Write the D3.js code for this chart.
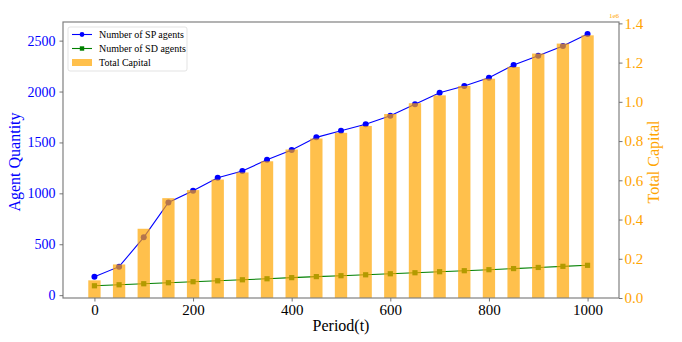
<!DOCTYPE html>
<html>
<head>
<meta charset="utf-8">
<script src="https://cdn.jsdelivr.net/npm/d3@7"></script>
<style>
  body { margin: 0; background: #fff; }
  svg text { font-family: "Liberation Serif", "Times New Roman", serif; }
</style>
</head>
<body>
<div id="chart"></div>
<script>
// periods sampled every 50 steps
var periods = [0, 50, 100, 150, 200, 250, 300, 350, 400, 450, 500,
               550, 600, 650, 700, 750, 800, 850, 900, 950, 1000];
var spAgents = [181, 280, 568, 911, 1026, 1153, 1219, 1330, 1425, 1550, 1614,
                1678, 1762, 1874, 1988, 2054, 2136, 2260, 2352, 2447, 2565];
var sdAgents = [92, 102, 112, 122, 132, 141, 151, 161, 172, 182, 191,
                200, 210, 220, 230, 240, 250, 261, 272, 283, 293];
var totalCapital = [90000, 171000, 353000, 509000, 550000, 604000, 640000, 697000, 757000, 813000, 842000,
                    877000, 938000, 993000, 1033000, 1081000, 1118000, 1178000, 1246000, 1297000, 1339000];
var xTicks = [0, 200, 400, 600, 800, 1000];
var leftTicks = [0, 500, 1000, 1500, 2000, 2500];
var rightTicks = [0, 200000, 400000, 600000, 800000, 1000000, 1200000, 1400000];

var Chart = {
    width: 682,
    height: 342,
    left: 63,
    right: 619,
    top: 22,
    bottom: 298,
    barWidth: 25,
    spColor: '#0000ff',
    sdColor: '#008000',
    barColor: '#ffa500',
    spineColor: '#808080',
    font: '"Liberation Serif", "Times New Roman", serif'
};

function styleAxis(g, color, size) {
    g.select('.domain').remove();
    g.selectAll('line').attr('stroke', '#666').attr('stroke-width', 0.9);
    g.selectAll('text').attr('font-size', size).attr('fill', color)
        .attr('font-family', Chart.font);
}

function drawChart() {
    var svg = d3.select('#chart').append('svg')
        .attr('width', Chart.width)
        .attr('height', Chart.height);

    var x = d3.scaleLinear().domain([-63.75, 1063.75]).range([Chart.left, Chart.right]);
    var yLeft = d3.scaleLinear().domain([-28, 2683]).range([Chart.bottom, Chart.top]);
    var yRight = d3.scaleLinear().domain([0, 1407000]).range([Chart.bottom, Chart.top]);

    var plot = svg.append('g');

    // lines (left axis)
    var line = d3.line().x(function (d, i) { return x(periods[i]); }).y(function (d) { return yLeft(d); });
    plot.append('path').datum(spAgents)
        .attr('d', line).attr('fill', 'none')
        .attr('stroke', Chart.spColor).attr('stroke-width', 1.1);
    plot.selectAll('.sp-dot').data(spAgents).enter().append('circle')
        .attr('cx', function (d, i) { return x(periods[i]); })
        .attr('cy', function (d) { return yLeft(d); })
        .attr('r', 3).attr('fill', Chart.spColor);

    plot.append('path').datum(sdAgents)
        .attr('d', line).attr('fill', 'none')
        .attr('stroke', Chart.sdColor).attr('stroke-width', 1.1);
    plot.selectAll('.sd-dot').data(sdAgents).enter().append('rect')
        .attr('x', function (d, i) { return x(periods[i]) - 2.6; })
        .attr('y', function (d) { return yLeft(d) - 2.6; })
        .attr('width', 5.2).attr('height', 5.2).attr('fill', Chart.sdColor);

    // bars (right axis), drawn over the lines
    plot.selectAll('.bar').data(totalCapital).enter().append('rect')
        .attr('x', function (d, i) { return x(periods[i] - Chart.barWidth / 2); })
        .attr('y', function (d) { return yRight(d); })
        .attr('width', x(Chart.barWidth) - x(0))
        .attr('height', function (d) { return yRight(0) - yRight(d); })
        .attr('fill', Chart.barColor).attr('fill-opacity', 0.7);

    // frame
    svg.append('rect')
        .attr('x', Chart.left).attr('y', Chart.top)
        .attr('width', Chart.right - Chart.left).attr('height', Chart.bottom - Chart.top)
        .attr('fill', 'none').attr('stroke', Chart.spineColor).attr('stroke-width', 1.2);

    var xAxis = svg.append('g')
        .attr('transform', 'translate(0,' + Chart.bottom + ')')
        .call(d3.axisBottom(x).tickValues(xTicks).tickSize(3.5).tickPadding(3)
            .tickFormat(d3.format('d')));
    styleAxis(xAxis, '#000', 15);

    var lAxis = svg.append('g')
        .attr('transform', 'translate(' + Chart.left + ',0)')
        .call(d3.axisLeft(yLeft).tickValues(leftTicks).tickSize(3.5).tickPadding(4)
            .tickFormat(d3.format('d')));
    styleAxis(lAxis, Chart.spColor, 14);

    var rAxis = svg.append('g')
        .attr('transform', 'translate(' + Chart.right + ',0)')
        .call(d3.axisRight(yRight).tickValues(rightTicks).tickSize(3.5).tickPadding(2)
            .tickFormat(function (d) { return d3.format('.1f')(d / 1e6); }));
    styleAxis(rAxis, Chart.barColor, 15);

    svg.append('text')
        .attr('x', Chart.right).attr('y', Chart.top - 4)
        .attr('text-anchor', 'end').attr('font-size', 7)
        .attr('fill', Chart.barColor).text('1e6');

    // axis titles
    svg.append('text')
        .attr('transform', 'translate(19.5,162) rotate(-90)')
        .attr('text-anchor', 'middle').attr('font-size', 16)
        .attr('fill', Chart.spColor).text('Agent Quantity');
    svg.append('text')
        .attr('transform', 'translate(659,162) rotate(-90)')
        .attr('text-anchor', 'middle').attr('font-size', 16)
        .attr('fill', Chart.barColor).text('Total Capital');
    svg.append('text')
        .attr('x', (Chart.left + Chart.right) / 2).attr('y', 331)
        .attr('text-anchor', 'middle').attr('font-size', 16)
        .attr('fill', '#000').text('Period(t)');

    drawLegend(svg);
}

function drawLegend(svg) {
    var lg = svg.append('g').attr('transform', 'translate(68,27)');
    lg.append('rect')
        .attr('width', 119).attr('height', 44).attr('rx', 2)
        .attr('fill', '#fff').attr('fill-opacity', 0.8)
        .attr('stroke', '#dcdcdc').attr('stroke-width', 0.8);

    var entries = [
        {label: 'Number of SP agents', type: 'circle', color: Chart.spColor},
        {label: 'Number of SD agents', type: 'square', color: Chart.sdColor},
        {label: 'Total Capital', type: 'patch', color: Chart.barColor}
    ];

    entries.forEach(function (e, i) {
        var cy = 7.5 + i * 14;
        if (e.type === 'patch') {
            lg.append('rect').attr('x', 4).attr('y', cy - 3.5).attr('width', 20).attr('height', 7)
                .attr('fill', e.color).attr('fill-opacity', 0.7);
        } else {
            lg.append('line').attr('x1', 4).attr('x2', 24).attr('y1', cy).attr('y2', cy)
                .attr('stroke', e.color).attr('stroke-width', 1.1);
            if (e.type === 'circle') {
                lg.append('circle').attr('cx', 14).attr('cy', cy).attr('r', 2.4).attr('fill', e.color);
            } else {
                lg.append('rect').attr('x', 11.8).attr('y', cy - 2.2).attr('width', 4.4).attr('height', 4.4)
                    .attr('fill', e.color);
            }
        }
        lg.append('text').attr('x', 31).attr('y', cy + 3.5)
            .attr('font-size', 10).attr('fill', '#000').text(e.label);
    });
}

drawChart();
</script>
</body>
</html>
